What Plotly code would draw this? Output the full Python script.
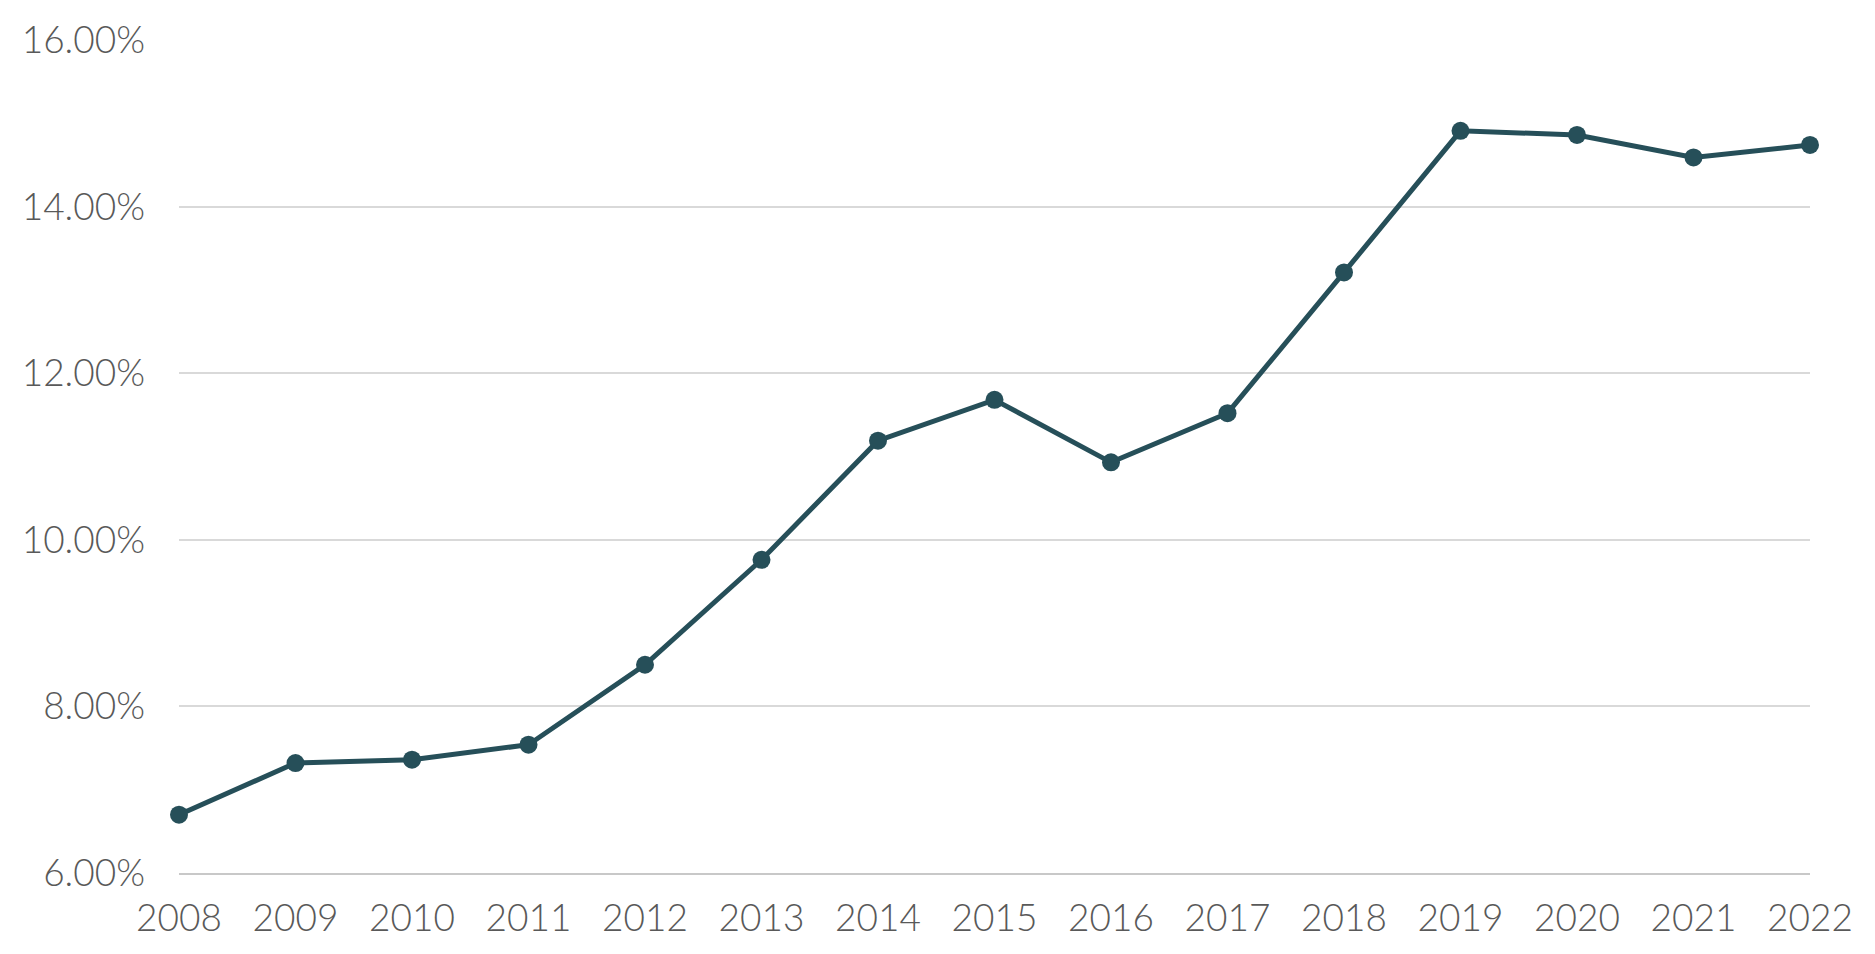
import plotly.graph_objects as go

years = [2008, 2009, 2010, 2011, 2012, 2013, 2014, 2015,
         2016, 2017, 2018, 2019, 2020, 2021, 2022]
rates = [6.70, 7.32, 7.36, 7.54, 8.50, 9.76, 11.19, 11.68,
         10.93, 11.52, 13.21, 14.91, 14.86, 14.59, 14.74]
y_ticks = [6, 8, 10, 12, 14, 16]
y_tick_text = ['%.2f%%' % v for v in y_ticks]

line_color = '#264f59'
font_color = '#595959'
grid_color = '#d9d9d9'

fig = go.Figure()
fig.add_trace(go.Scatter(
    x=years,
    y=rates,
    mode='lines+markers',
    line=dict(color=line_color, width=5),
    marker=dict(color=line_color, size=18),
    cliponaxis=False,
))

# the page body adds an 8px margin, so the figure is sized to fit inside it
fig.update_layout(
    width=1859,
    height=938,
    paper_bgcolor='white',
    plot_bgcolor='white',
    showlegend=False,
    font=dict(family='Lato', size=37, color=font_color, weight=300),
    margin=dict(l=171, r=57, t=32, b=73, autoexpand=False),
)
fig.update_xaxes(
    range=[2008, 2022],
    tickvals=years,
    ticktext=[str(y) for y in years],
    showgrid=False,
    showline=True,
    linecolor='#c8c8c8',
    linewidth=2,
    ticklabelstandoff=12,
    zeroline=False,
)
fig.update_yaxes(
    range=[6, 16],
    tickvals=y_ticks,
    ticktext=y_tick_text,
    showgrid=True,
    gridcolor=grid_color,
    gridwidth=1.5,
    zeroline=False,
    ticklabelstandoff=33,
)

fig.write_html("out.html")
